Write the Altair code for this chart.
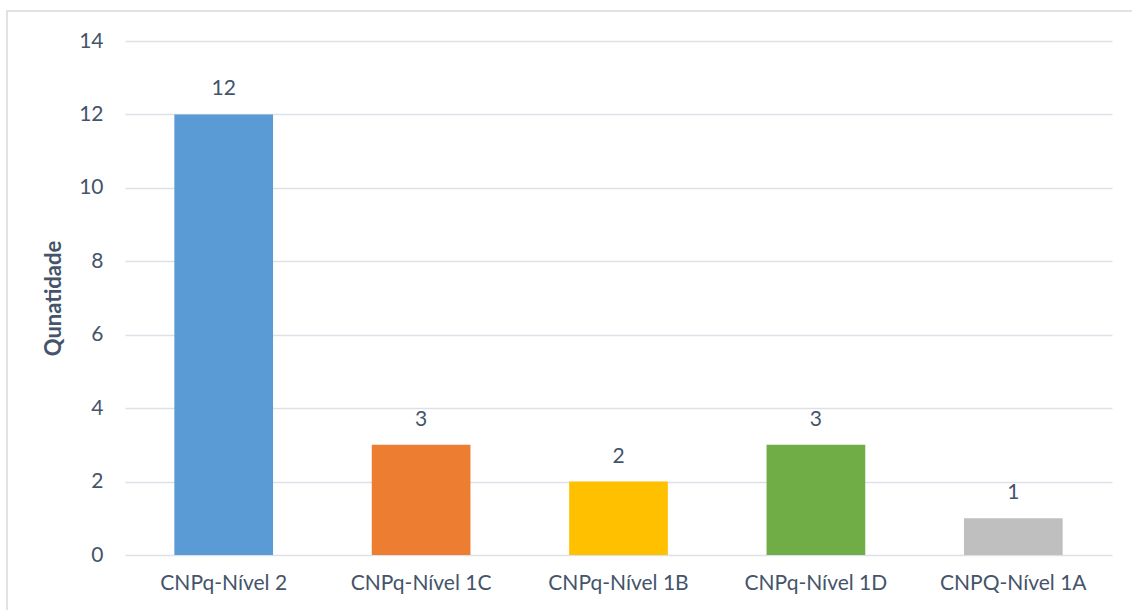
import altair as alt
import pandas as pd

categories = ["CNPq-Nível 2", "CNPq-Nível 1C", "CNPq-Nível 1B", "CNPq-Nível 1D", "CNPQ-Nível 1A"]
values = [12, 3, 2, 3, 1]
colors = ["#5B9BD5", "#ED7D31", "#FFC000", "#70AD47", "#BFBFBF"]
y_ticks = list(range(0, 15))

df = pd.DataFrame({"cat": categories, "val": values, "color": colors})

FONT = "Lato"
TXT = "#44546A"
FS = 21

x = alt.X("cat:N", sort=categories, title=None,
          scale=alt.Scale(paddingInner=0.5, paddingOuter=0.25),
          axis=alt.Axis(labelAngle=0, labelFontSize=FS, labelColor=TXT, labelFont=FONT,
                        labelPadding=17, ticks=False, domain=False, grid=False))
y = alt.Y("val:Q", title="Qunatidade",
          scale=alt.Scale(domain=[0, 14], nice=False),
          axis=alt.Axis(values=y_ticks, labelExpr="datum.value % 2 === 0 ? datum.label : ''",
                        labelFontSize=FS, labelColor=TXT, labelFont=FONT, labelPadding=22,
                        ticks=False, domain=False,
                        gridColor={"condition": {"test": "datum.value % 2 === 0", "value": "#DDE1E7"},
                                   "value": "#F2F2F2"},
                        gridWidth=1.6,
                        titleFont=FONT, titleFontSize=22, titleFontWeight="bold",
                        titleColor=TXT, titlePadding=13))

bars = alt.Chart(df).mark_bar().encode(
    x=x, y=y, color=alt.Color("color:N", scale=None)
)

labels = alt.Chart(df).mark_text(baseline="bottom", dy=-15, fontSize=FS, font=FONT, color=TXT).encode(
    x=alt.X("cat:N", sort=categories), y="val:Q", text="val:Q"
)

frame = alt.Chart(pd.DataFrame({"a": [0]})).mark_rect(
    fill=None, stroke="#D9D9D9", strokeWidth=1.5
).encode(x=alt.value(-118), x2=alt.value(1020), y=alt.value(-30), y2=alt.value(600))

chart = alt.layer(frame, bars, labels).properties(
    width=987, height=514,
    autosize=alt.AutoSizeParams(type="none"),
    padding={"left": 125, "top": 41, "right": 20, "bottom": 55},
    background="white",
).configure_view(stroke=None)

chart.save("out.html", embed_options={"renderer": "svg", "actions": False})
